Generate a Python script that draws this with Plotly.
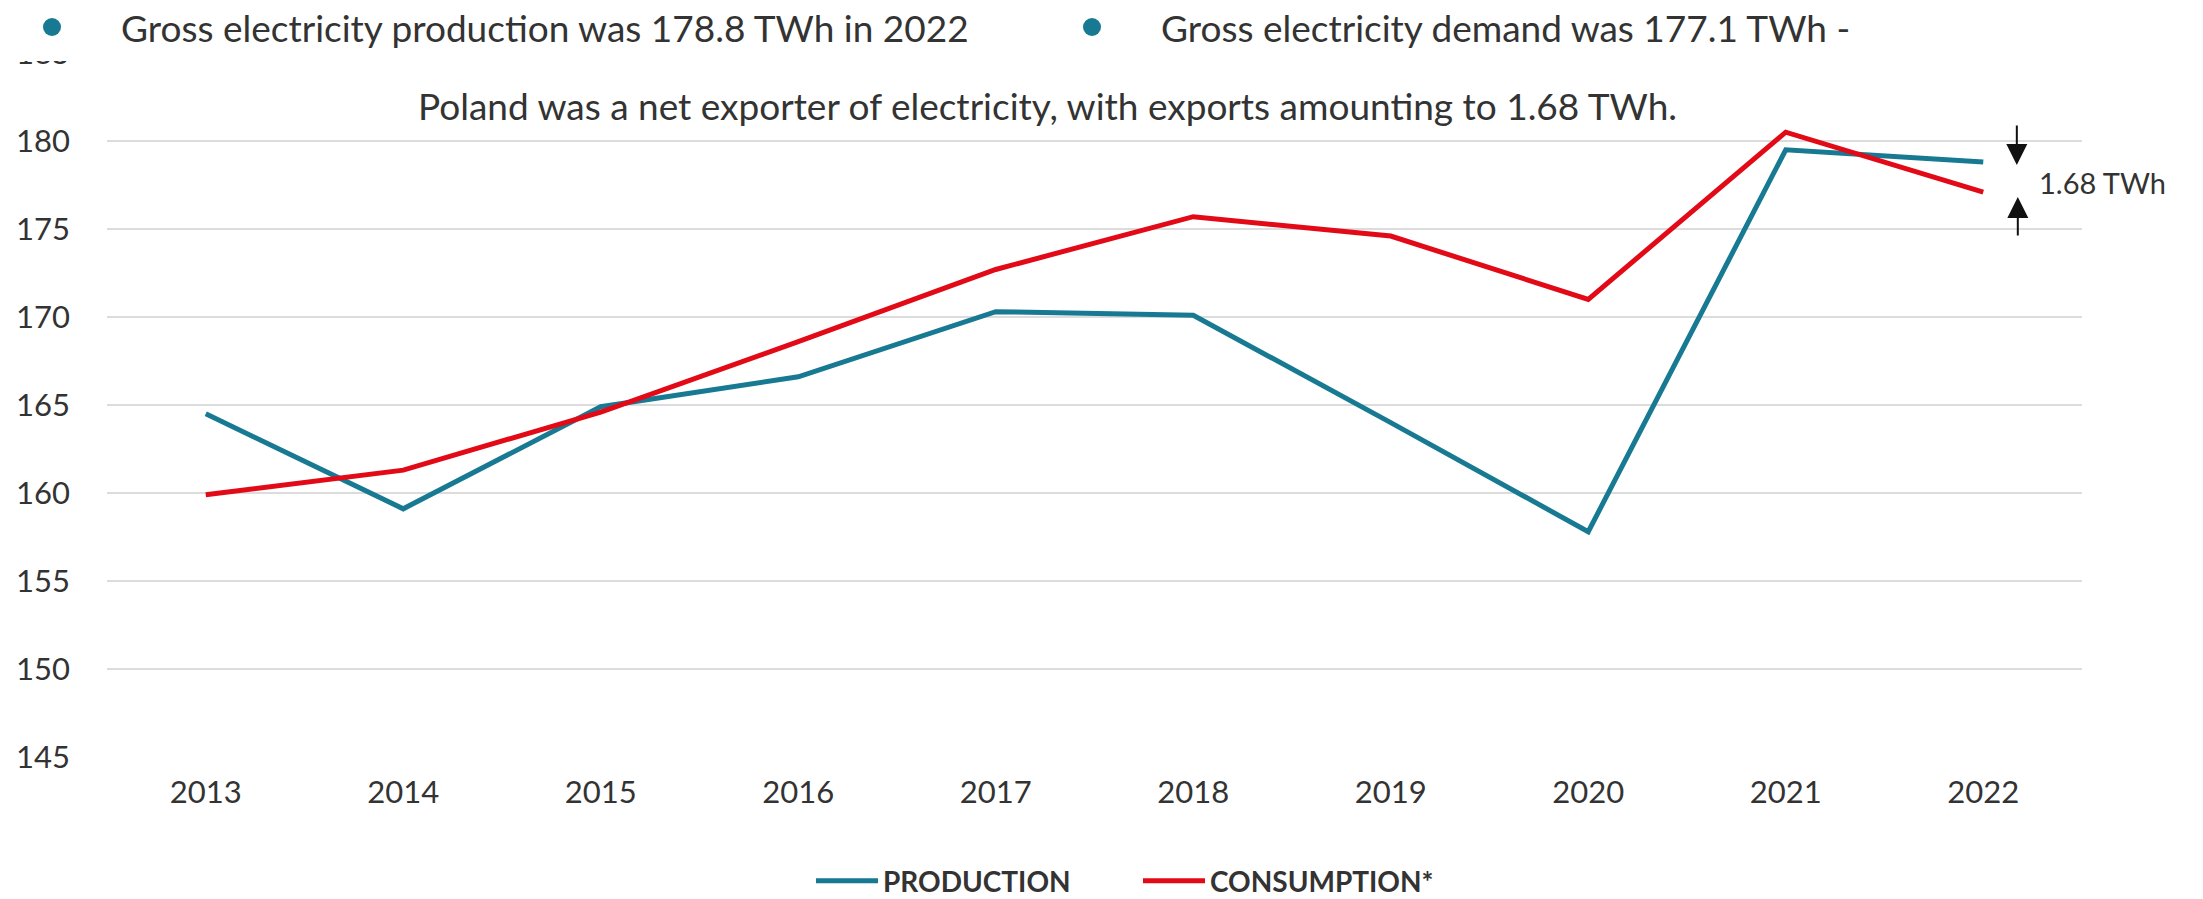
import plotly.graph_objects as go

years = ["2013", "2014", "2015", "2016", "2017", "2018", "2019", "2020", "2021", "2022"]
production = [164.5, 159.1, 164.9, 166.6, 170.3, 170.1, 164.0, 157.8, 179.5, 178.8]
consumption = [159.9, 161.3, 164.6, 168.6, 172.7, 175.7, 174.6, 171.0, 180.5, 177.1]
y_ticks = [145, 150, 155, 160, 165, 170, 175, 180, 185]

TEAL = "#177a92"
RED = "#e30a17"
TXT = "#333333"
FONT = "Lato"

W, H = 2203, 899
L, R, T, B = 107, 121, 53, 142
PW, PH = W - L - R, H - T - B


def px(x):
    return (x - L) / PW


def py(y):
    return (H - B - y) / PH


fig = go.Figure()
fig.add_trace(go.Scatter(x=years, y=production, mode="lines", name="PRODUCTION",
                         line=dict(color=TEAL, width=5)))
fig.add_trace(go.Scatter(x=years, y=consumption, mode="lines", name="CONSUMPTION*",
                         line=dict(color=RED, width=5)))

shapes = [
    dict(type="rect", xref="paper", yref="paper", x0=px(0), x1=px(983), y0=py(61), y1=py(0),
         fillcolor="white", line=dict(width=0), layer="above"),
    dict(type="rect", xref="paper", yref="paper", x0=px(1047), x1=px(1846), y0=py(61), y1=py(0),
         fillcolor="white", line=dict(width=0), layer="above"),
    dict(type="circle", xref="paper", yref="paper", x0=px(43), x1=px(61), y0=py(36), y1=py(18),
         fillcolor=TEAL, line=dict(width=0), layer="above"),
    dict(type="circle", xref="paper", yref="paper", x0=px(1083), x1=px(1101), y0=py(36), y1=py(18),
         fillcolor=TEAL, line=dict(width=0), layer="above"),
]

annotations = [
    dict(xref="paper", yref="paper", x=px(119), y=py(27), xanchor="left", yanchor="middle",
         text="Gross electricity production was 178.8 TWh in 2022", showarrow=False,
         font=dict(family=FONT, size=37, color=TXT)),
    dict(xref="paper", yref="paper", x=px(1159), y=py(27), xanchor="left", yanchor="middle",
         text="Gross electricity demand was 177.1 TWh -", showarrow=False,
         font=dict(family=FONT, size=37, color=TXT)),
    dict(xref="paper", yref="paper", x=px(1047), y=py(105), xanchor="center", yanchor="middle",
         text="Poland was a net exporter of electricity, with exports amounting to 1.68 TWh.",
         showarrow=False, font=dict(family=FONT, size=37, color=TXT)),
    dict(xref="paper", yref="paper", x=px(2037), y=py(182), xanchor="left", yanchor="middle",
         text="1.68 TWh", showarrow=False, font=dict(family=FONT, size=29, color=TXT)),
    # arrows marking the 2022 gap
    dict(xref="x", yref="y", x=9.17, y=production[-1] - 0.16, ax=0, ay=-41, text="",
         showarrow=True, arrowhead=2, arrowsize=2.1, arrowwidth=2, arrowcolor="#111111",
         standoff=0, startstandoff=0),
    dict(xref="x", yref="y", x=9.175, y=consumption[-1] - 0.28, ax=0, ay=40, text="",
         showarrow=True, arrowhead=2, arrowsize=2.1, arrowwidth=2, arrowcolor="#111111",
         standoff=0, startstandoff=0),
]

fig.update_layout(
    width=W, height=H, autosize=False,
    margin=dict(l=L, r=R, t=T, b=B),
    paper_bgcolor="white", plot_bgcolor="white",
    font=dict(family=FONT, size=31, color=TXT),
    showlegend=True,
    legend=dict(orientation="h", xref="container", yref="container",
                x=1138 / W, xanchor="center", y=(H - 881) / H, yanchor="middle",
                font=dict(family=FONT, size=28, color=TXT, weight="bold"),
                itemwidth=62, entrywidth=250, tracegroupgap=0),
    xaxis=dict(type="category", range=[-0.5, 9.5], showgrid=False, zeroline=False,
               showline=False, ticks="", tickfont=dict(family=FONT, size=31, color=TXT),
               ticklabelstandoff=14, fixedrange=True, automargin=False),
    yaxis=dict(range=[145, 185], tickvals=y_ticks, showgrid=True, gridcolor="#dcdcdc",
               gridwidth=2, zeroline=False, showline=False, ticks="",
               tickfont=dict(family=FONT, size=31, color=TXT), ticklabelstandoff=36,
               fixedrange=True, automargin=False),
    shapes=shapes,
    annotations=annotations,
)

fig.write_html("out.html", config={"displayModeBar": False},
               post_script="document.body.style.margin='0';document.body.style.overflow='hidden';")
